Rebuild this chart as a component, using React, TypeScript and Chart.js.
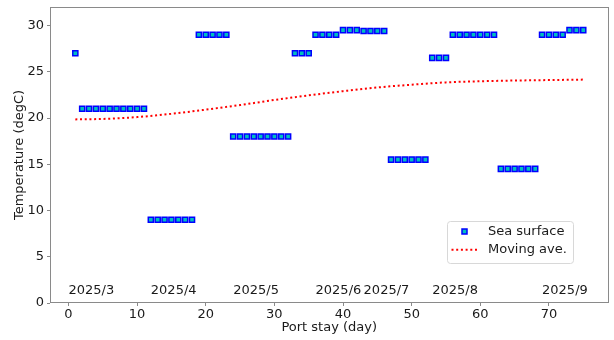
import React, { useEffect, useRef } from 'react';
import { Chart, registerables } from 'chart.js';

Chart.register(...registerables);

// ---- data ----
const seaDays = [
  1, 2, 3, 4, 5, 6, 7, 8, 9, 10, 11, 12, 13, 14, 15, 16, 17, 18, 19, 20,
  21, 22, 23, 24, 25, 26, 27, 28, 29, 30, 31, 32, 33, 34, 35, 36, 37, 38, 39, 40,
  41, 42, 43, 44, 45, 46, 47, 48, 49, 50, 51, 52, 53, 54, 55, 56, 57, 58, 59, 60,
  61, 62, 63, 64, 65, 66, 67, 68, 69, 70, 71, 72, 73, 74, 75,
];
const seaTemps = [
  27,
  21, 21, 21, 21, 21, 21, 21, 21, 21, 21,
  9, 9, 9, 9, 9, 9, 9,
  29, 29, 29, 29, 29,
  18, 18, 18, 18, 18, 18, 18, 18, 18,
  27, 27, 27,
  29, 29, 29, 29,
  29.5, 29.5, 29.5,
  29.4, 29.4, 29.4, 29.4,
  15.5, 15.5, 15.5, 15.5, 15.5, 15.5,
  26.5, 26.5, 26.5,
  29, 29, 29, 29, 29, 29, 29,
  14.5, 14.5, 14.5, 14.5, 14.5, 14.5,
  29, 29, 29, 29,
  29.5, 29.5, 29.5,
];
const maDays = [1, 5, 10, 15, 20, 25, 30, 35, 40, 45, 50, 55, 60, 65, 70, 75];
const maTemps = [19.85, 19.9, 20.1, 20.45, 20.9, 21.4, 21.95, 22.45, 22.9, 23.3, 23.6, 23.85, 23.97, 24.05, 24.1, 24.15];

const monthLabels = ['2025/3', '2025/4', '2025/5', '2025/6', '2025/7', '2025/8', '2025/9'];
const monthStartDays = [0, 12, 24, 36, 43, 53, 69];
const monthLabelTemp = 1;

const xTicks = [0, 10, 20, 30, 40, 50, 60, 70];
const yTicks = [0, 5, 10, 15, 20, 25, 30];
const seriesNames = ['Sea surface', 'Moving ave.'];

const FONT = 'DejaVu Sans';
const MARKER_FILL = '#00bfbf';
const MARKER_EDGE = '#0000ff';
const LINE_COLOR = '#ff0000';
const SPINE = '#8a8a8a';
const TEXT = '#1a1a1a';

const decorPlugin = {
  id: 'decor',
  afterDraw(chart: any) {
    const { ctx, chartArea, scales } = chart;
    const xs = scales.x;
    const ys = scales.y;
    ctx.save();
    // spines
    ctx.strokeStyle = SPINE;
    ctx.lineWidth = 1;
    const l = Math.round(chartArea.left) + 0.5;
    const r = Math.round(chartArea.right) - 0.5;
    const t = Math.round(chartArea.top) + 0.5;
    const b = Math.round(chartArea.bottom) - 0.5;
    ctx.strokeRect(l, t, r - l, b - t);

    // month labels
    ctx.fillStyle = TEXT;
    ctx.font = `13px "${FONT}"`;
    ctx.textAlign = 'left';
    ctx.textBaseline = 'alphabetic';
    monthLabels.forEach((m, i) => {
      ctx.fillText(m, xs.getPixelForValue(monthStartDays[i]), ys.getPixelForValue(monthLabelTemp));
    });

    // legend
    const lw = 126;
    const lh = 42;
    const lx = chartArea.right - 36 - lw;
    const ly = chartArea.bottom - 40 - lh;
    ctx.fillStyle = 'rgba(255,255,255,0.85)';
    ctx.strokeStyle = '#d8d8d8';
    ctx.lineWidth = 1;
    ctx.beginPath();
    if ((ctx as any).roundRect) {
      (ctx as any).roundRect(Math.round(lx) + 0.5, Math.round(ly) + 0.5, lw, lh, 3);
    } else {
      ctx.rect(Math.round(lx) + 0.5, Math.round(ly) + 0.5, lw, lh);
    }
    ctx.fill();
    ctx.stroke();

    const row1 = ly + 10.5;
    const row2 = ly + 28.8;
    // marker sample
    const mx = lx + 18;
    ctx.fillStyle = MARKER_FILL;
    ctx.strokeStyle = MARKER_EDGE;
    ctx.lineWidth = 1.5;
    ctx.beginPath();
    ctx.rect(mx - 2.5, row1 - 2.5, 5, 5);
    ctx.fill();
    ctx.stroke();
    // line sample
    ctx.strokeStyle = LINE_COLOR;
    ctx.lineWidth = 2;
    ctx.setLineDash([2, 2.7]);
    ctx.beginPath();
    ctx.moveTo(lx + 5, row2);
    ctx.lineTo(lx + 31, row2);
    ctx.stroke();
    ctx.setLineDash([]);
    // texts
    ctx.fillStyle = TEXT;
    ctx.font = `13px "${FONT}"`;
    ctx.textBaseline = 'middle';
    ctx.fillText(seriesNames[0], lx + 41.5, row1);
    ctx.fillText(seriesNames[1], lx + 41.5, row2);
    ctx.restore();
  },
};

export default function App() {
  const ref = useRef<HTMLCanvasElement>(null);
  useEffect(() => {
    if (!ref.current) return;
    Chart.defaults.font.family = FONT;
    Chart.defaults.font.size = 13;
    Chart.defaults.color = TEXT;
    const chart = new Chart(ref.current, {
      type: 'scatter',
      data: {
        datasets: [
          {
            label: seriesNames[0],
            data: seaDays.map((d, i) => ({ x: d, y: seaTemps[i] })),
            pointStyle: 'rect',
            pointRadius: 3.6,
            pointBorderWidth: 1.5,
            backgroundColor: MARKER_FILL,
            borderColor: MARKER_EDGE,
            showLine: false,
          },
          {
            label: seriesNames[1],
            data: maDays.map((d, i) => ({ x: d, y: maTemps[i] })),
            showLine: true,
            pointRadius: 0,
            borderColor: LINE_COLOR,
            borderWidth: 2,
            borderDash: [2, 2.7],
            cubicInterpolationMode: 'monotone',
            fill: false,
          } as any,
        ],
      },
      options: {
        responsive: false,
        animation: false,
        devicePixelRatio: 1,
        layout: { padding: { top: 7, right: 2, left: 0, bottom: 0 } },
        plugins: {
          legend: { display: false },
          tooltip: { enabled: false },
        },
        scales: {
          x: {
            type: 'linear',
            min: -2.69,
            max: 78.68,
            afterBuildTicks: (s: any) => {
              s.ticks = xTicks.map((v) => ({ value: v }));
            },
            afterFit: (s: any) => {
              s.height = 37;
              s.paddingLeft = 0;
              s.paddingRight = 0;
            },
            ticks: { color: TEXT, padding: 1, maxRotation: 0, autoSkip: false, font: { size: 13 } },
            grid: { drawOnChartArea: false, drawTicks: true, tickLength: 3, color: SPINE },
            border: { display: false },
            title: { display: true, text: 'Port stay (day)', color: TEXT, font: { size: 13 }, padding: { top: 0, bottom: 5 } },
          },
          y: {
            type: 'linear',
            min: 0,
            max: 32,
            afterBuildTicks: (s: any) => {
              s.ticks = yTicks.map((v) => ({ value: v }));
            },
            afterFit: (s: any) => {
              s.width = 50;
              s.paddingTop = 0;
              s.paddingBottom = 0;
            },
            ticks: { color: TEXT, padding: 3, autoSkip: false, font: { size: 13 } },
            grid: { drawOnChartArea: false, drawTicks: true, tickLength: 3, color: SPINE },
            border: { display: false },
            title: { display: true, text: 'Temperature (degC)', color: TEXT, font: { size: 13 }, padding: { top: 12, bottom: 0 } },
          },
        },
      },
      plugins: [decorPlugin],
    });
    return () => chart.destroy();
  }, []);
  return (
    <div style={{ position: 'fixed', left: 0, top: 0, width: 614, height: 340, background: '#fff' }}>
      <canvas ref={ref} width={614} height={340} style={{ width: 614, height: 340, display: 'block' }} />
    </div>
  );
}
